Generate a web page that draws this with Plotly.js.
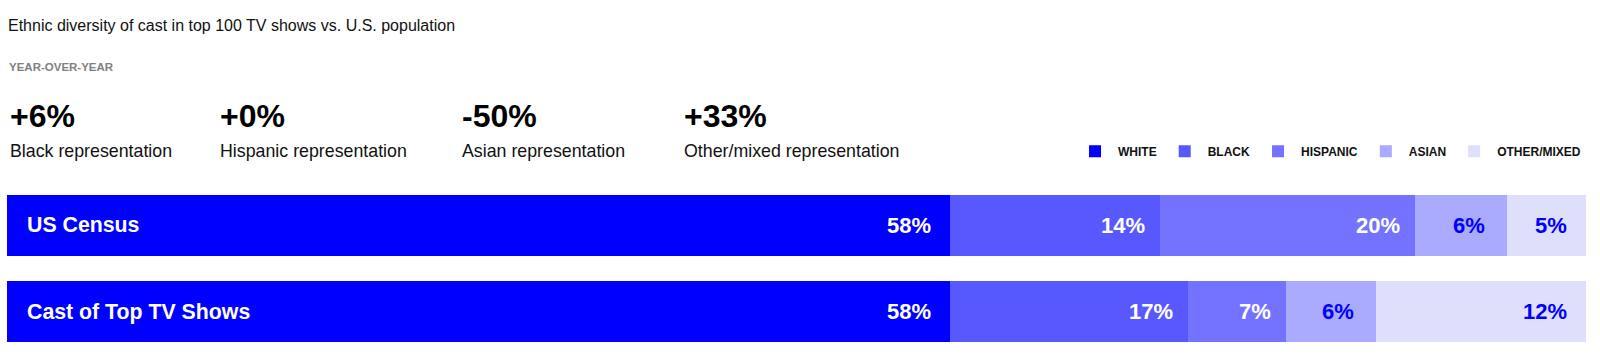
<!DOCTYPE html>
<html>
<head>
<meta charset="utf-8">
<script src="https://cdn.plot.ly/plotly-3.0.1.min.js"></script>
<style>html,body{margin:0;padding:0;background:#fff;}#chart{width:1600px;height:360px;}</style>
</head>
<body>
<div id="chart"></div>
<script>
// ---- data ----
const categories = ['US Census', 'Cast of Top TV Shows'];
const groupNames = ['WHITE', 'BLACK', 'HISPANIC', 'ASIAN', 'OTHER/MIXED'];
const whiteShare = [59.7, 59.7];
const blackShare = [13.3, 15.1];
const hispanicShare = [16.2, 6.2];
const asianShare = [5.8, 5.7];
const otherShare = [5.0, 13.3];
const whiteLabels = ['58%', '58%'];
const blackLabels = ['14%', '17%'];
const hispanicLabels = ['20%', '7%'];
const asianLabels = ['6%', '6%'];
const otherLabels = ['5%', '12%'];
const yoyChanges = ['+6%', '+0%', '-50%', '+33%'];
const yoyNames = ['Black representation', 'Hispanic representation', 'Asian representation', 'Other/mixed representation'];

// ---- styles ----
const FONT = 'Liberation Sans, Arial, Helvetica, sans-serif';
const colors = ['#0000ff', '#5858ff', '#7373ff', '#aaaaff', '#dedffb'];
const labelColors = ['#ffffff', '#ffffff', '#ffffff', '#0000ff', '#0000ff'];
const labelShift = [-17, -13, -13, -20, -17];

const series = [whiteShare, blackShare, hispanicShare, asianShare, otherShare];
const seriesLabels = [whiteLabels, blackLabels, hispanicLabels, asianLabels, otherLabels];

const traces = series.map((vals, i) => ({
  type: 'bar',
  orientation: 'h',
  name: groupNames[i],
  y: categories,
  x: vals,
  marker: {color: colors[i], line: {width: 0}},
  hoverinfo: 'skip'
}));

const annotations = [];
// value labels at the right end of each segment
categories.forEach((cat, r) => {
  let cum = 0;
  series.forEach((vals, i) => {
    cum += vals[r];
    annotations.push({
      x: cum, y: cat, xref: 'x', yref: 'y',
      text: seriesLabels[i][r], showarrow: false,
      xanchor: 'right', yanchor: 'middle', xshift: labelShift[i],
      font: {family: FONT, size: 22, color: labelColors[i], weight: 700}
    });
  });
  annotations.push({
    x: 0, y: cat, xref: 'x', yref: 'y',
    text: cat, showarrow: false, xanchor: 'left', yanchor: 'middle', xshift: 18,
    font: {family: FONT, size: 21.3, color: '#ffffff', weight: 700}
  });
});

// header
annotations.push({
  x: 0, y: 1.6665, xref: 'paper', yref: 'paper', xanchor: 'left', yanchor: 'middle',
  text: 'YEAR-OVER-YEAR', showarrow: false,
  font: {family: FONT, size: 11.5, color: '#808080', weight: 700}
});
const headerX = [0.0005, 0.1335, 0.2868, 0.4274];
yoyChanges.forEach((c, i) => {
  annotations.push({
    x: headerX[i], y: 1.3815, xref: 'paper', yref: 'paper', xanchor: 'left', yanchor: 'middle',
    text: c, showarrow: false,
    font: {family: FONT, size: 32, color: '#000000', weight: 700}
  });
  annotations.push({
    x: headerX[i], y: 1.179, xref: 'paper', yref: 'paper', xanchor: 'left', yanchor: 'middle',
    text: yoyNames[i], showarrow: false,
    font: {family: FONT, size: 17.8, color: '#111111'}
  });
});

const layout = {
  width: 1600, height: 360,
  margin: {l: 7, r: 14, t: 182, b: 5},
  paper_bgcolor: '#ffffff', plot_bgcolor: '#ffffff',
  barmode: 'stack', bargap: 0.295,
  hovermode: false,
  title: {
    text: 'Ethnic diversity of cast in top 100 TV shows vs. U.S. population',
    x: 8 / 1600, xref: 'container', xanchor: 'left',
    y: 1 - 25 / 360, yref: 'container', yanchor: 'middle',
    font: {family: FONT, size: 16, color: '#111111'}
  },
  xaxis: {range: [0, 100], visible: false, fixedrange: true},
  yaxis: {type: 'category', categoryorder: 'array', categoryarray: categories, autorange: 'reversed', visible: false, fixedrange: true},
  showlegend: true,
  legend: {
    orientation: 'h', x: 0.6745, xanchor: 'left', y: 1.178, yanchor: 'middle',
    traceorder: 'normal', itemwidth: 36,
    font: {family: FONT, size: 12, color: '#111111', weight: 700},
    bgcolor: 'rgba(0,0,0,0)'
  },
  annotations: annotations,
  font: {family: FONT}
};

Plotly.newPlot('chart', traces, layout, {displayModeBar: false, staticPlot: true});
</script>
</body>
</html>
